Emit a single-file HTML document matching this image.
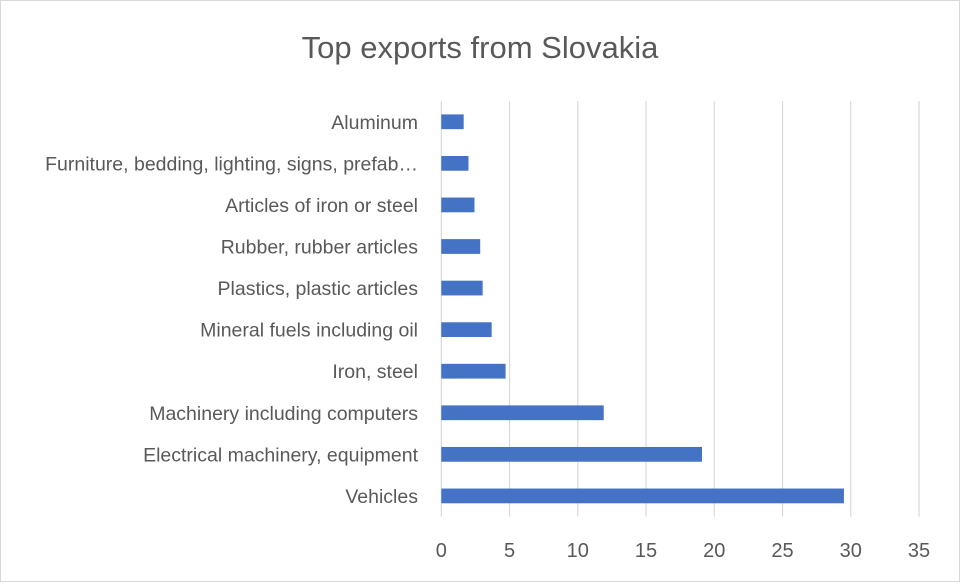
<!DOCTYPE html>
<html><head><meta charset="utf-8"><style>
body{margin:0;background:#fff;}
svg text{font-family:"Liberation Sans",sans-serif;fill:#595959;}
</style></head><body>
<svg width="960" height="582" viewBox="0 0 960 582" xmlns="http://www.w3.org/2000/svg">
<rect x="0.5" y="0.5" width="959" height="581" fill="#fff" stroke="#d9d9d9"/>
<text x="480" y="58" text-anchor="middle" font-size="31">Top exports from Slovakia</text>
<g id="grid"></g><g id="bars"></g><g id="ylabels"></g><g id="xlabels"></g>
</svg>
<script>
const categories=["Aluminum","Furniture, bedding, lighting, signs, prefab…","Articles of iron or steel","Rubber, rubber articles","Plastics, plastic articles","Mineral fuels including oil","Iron, steel","Machinery including computers","Electrical machinery, equipment","Vehicles"];
const values=[1.64,1.99,2.43,2.85,3.03,3.69,4.71,11.9,19.1,29.5];
const ticks=[0,5,10,15,20,25,30,35];
const NS="http://www.w3.org/2000/svg";
const x0=441.3,x1=919,yTop=101,yBot=516.7,xmax=35;
const xs=v=>x0+(v/xmax)*(x1-x0);
const band=(yBot-yTop)/categories.length;
const ys=i=>yTop+band*i;
function mk(t,a){const e=document.createElementNS(NS,t);for(const k in a)e.setAttribute(k,a[k]);return e;}
const grid=document.getElementById('grid'),bars=document.getElementById('bars'),yl=document.getElementById('ylabels'),xl=document.getElementById('xlabels');
ticks.forEach(t=>{
 const l=mk('line',{x1:xs(t),x2:xs(t),y1:yTop,y2:yBot,stroke:'#d9d9d9','stroke-width':1.2});
 
 
 grid.appendChild(l);
 const tx=mk('text',{x:xs(t),y:557,'text-anchor':'middle','font-size':20});
 tx.textContent=t;
 
 
 xl.appendChild(tx);
});
categories.forEach((c,i)=>{
 const bh=band*0.355;
 const y=ys(i)+(band-bh)/2;
 const r=mk('rect',{x:x0,y:y,width:xs(values[i])-x0,height:bh,fill:'#4472c4'});
 
 
 bars.appendChild(r);
 const tx=mk('text',{x:418,y:ys(i)+band/2+7,'text-anchor':'end','font-size':19.5});
 tx.textContent=c;
 
 
 yl.appendChild(tx);
});
</script>
</body></html>
